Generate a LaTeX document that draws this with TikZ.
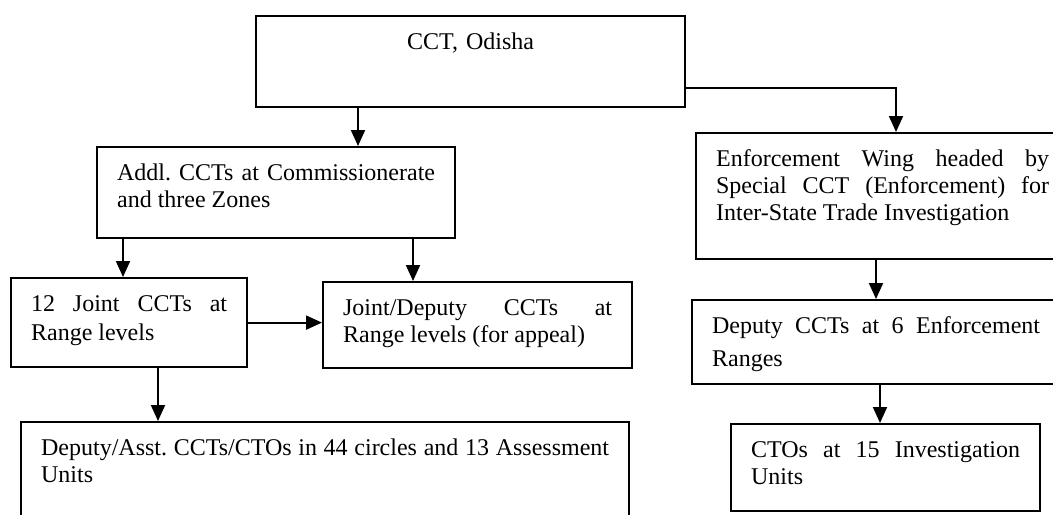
\documentclass[tikz,border=0pt]{standalone}
\usepackage{fontspec}
\setmainfont{Liberation Serif}
\usepackage{tikz}
\usetikzlibrary{positioning}
\usetikzlibrary{arrows.meta}
\tikzset{unit/.style={draw, line width=1.1pt, anchor=north west, align=justify,
  inner xsep=10pt, inner ysep=7.5pt, text height=9pt,
  font=\fontsize{12pt}{13.5pt}\selectfont\frenchspacing}}
\tikzset{link/.style={line width=1pt, -{Triangle[length=8pt,width=7pt]}}}

\begin{document}
\begin{tikzpicture}[x=0.5pt,y=-0.5pt]
\fill[white] (0,0) rectangle (1053,514);
\useasboundingbox (0,0) rectangle (1053,514);
\node[unit, align=center, text width=194.5pt, text depth=21.5pt] (cct) at (255,15) {CCT, Odisha};
\node[unit, text width=159pt, text depth=21.5pt] (addl) at (96,146) {Addl. CCTs at Commissionerate\linebreak and three Zones};
\node[unit, text width=166.5pt, text depth=39pt] (enf) at (695,132) {Enforcement Wing headed by\linebreak Special CCT (Enforcement) for\linebreak Inter-State Trade Investigation};
\node[unit, text width=98pt, text depth=20.5pt, font=\fontsize{12pt}{14.5pt}\selectfont] (joint) at (10,277) {12 Joint CCTs at\linebreak Range levels};
\node[unit, text width=134.5pt, text depth=19pt] (appeal) at (322,281) {Joint/Deputy CCTs at\linebreak Range levels (for appeal)};
\node[unit, text width=164pt, text depth=18pt, font=\fontsize{12pt}{16.5pt}\selectfont] (dyranges) at (691,299) {Deputy CCTs at 6 Enforcement\linebreak Ranges};
\node[unit, text width=284pt, text depth=30.5pt] (circles) at (20,421) {Deputy/Asst. CCTs/CTOs in 44 circles and 13 Assessment\linebreak Units};
\node[unit, text width=134.5pt, text depth=19.5pt] (ctos) at (730,423) {CTOs at 15 Investigation\linebreak Units};
% left branch
\draw[link] ([xshift=51.5pt]cct.south west) -- ([xshift=51.5pt]cct.south west |- addl.north);
\draw[link] ([xshift=13.5pt]addl.south west) -- ([xshift=13.5pt]addl.south west |- joint.north);
\draw[link] ([xshift=158.5pt]addl.south west) -- ([xshift=158.5pt]addl.south west |- appeal.north);
\draw[link] (joint.east) -- (joint.east -| appeal.west);
\draw[link] ([xshift=74pt]joint.south west) -- ([xshift=74pt]joint.south west |- circles.north);
% enforcement branch
\draw[link] ([yshift=-13pt]cct.east) -| ([xshift=100.5pt]enf.north west);
\draw[link] ([xshift=90.5pt]enf.south west) -- ([xshift=90.5pt]enf.south west |- dyranges.north);
\draw[link] ([xshift=94.5pt]dyranges.south west) -- ([xshift=94.5pt]dyranges.south west |- ctos.north);
\end{tikzpicture}
\end{document}
